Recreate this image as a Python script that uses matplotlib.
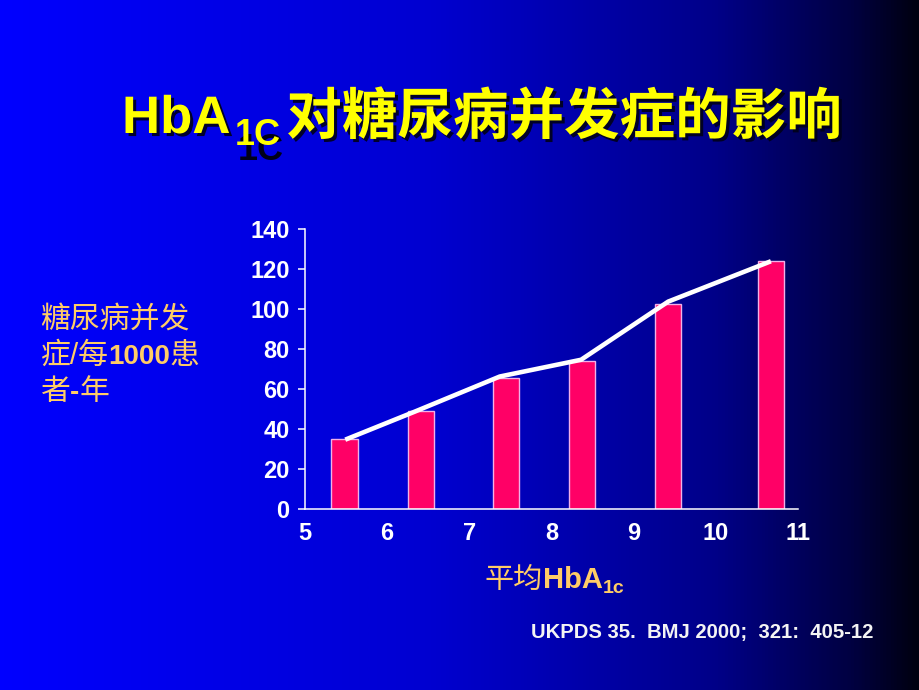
import numpy as np
import matplotlib
matplotlib.use('Agg')
import matplotlib.pyplot as plt
import matplotlib.patheffects as pe
from matplotlib.colors import LinearSegmentedColormap

# data
hba1c_bar = [5.48, 6.41, 7.45, 8.37, 9.42, 10.67]
events_bar = [35.2, 49.0, 65.5, 74.2, 102.5, 124.0]
hba1c_line = [5.49, 6.34, 7.37, 8.36, 9.42, 10.67]
events_line = [34.7, 48.8, 66.3, 74.7, 103.8, 124.0]
x_ticks = [5, 6, 7, 8, 9, 10, 11]
y_ticks = [0, 20, 40, 60, 80, 100, 120, 140]

title_main = "HbA"
title_sub = "1C"
title_cn = "对糖尿病并发症的影响"
# y label as (text, bold) runs per line
ylabel_lines = [[("糖尿病并发", False)],
                [("症/每", False), ("1000", True), ("患", False)],
                [("者", False), ("-", True), ("年", False)]]
xlabel_cn = "平均"
xlabel_sub = "1c"
source = "UKPDS 35.  BMJ 2000;  321:  405-12"

W, H = 920, 690
FAM = ['Liberation Sans', 'Noto Sans CJK SC']
YELLOW = '#ffff00'
TAN = '#ffcc66'

fig = plt.figure(figsize=(W / 100, H / 100), dpi=100)

# gradient background, blue -> near black
bg = fig.add_axes([0, 0, 1, 1])
bg.axis('off')
cmap = LinearSegmentedColormap.from_list(
    'bg', [(0, '#0000ff'), (0.47, '#0000d0'), (0.78, '#000088'),
           (0.93, '#000040'), (1, '#000010')])
bg.imshow(np.linspace(0, 1, 600).reshape(1, -1), cmap=cmap, aspect='auto',
          extent=[0, 1, 0, 1])
bg.set_xlim(0, 1)
bg.set_ylim(0, 1)

ax = fig.add_axes([0.3315, 0.2623, 0.5359, 0.4054])
ax.set_facecolor('none')
ax.bar(hba1c_bar, events_bar, width=0.32, color='#ff0066',
       edgecolor='#f0b0e8', linewidth=1, zorder=2)
ax.plot(hba1c_line, events_line, color='white', lw=3.3,
        solid_capstyle='butt', zorder=3)
ax.set_xlim(5, 11)
ax.set_ylim(0, 140)
for s in ['top', 'right']:
    ax.spines[s].set_visible(False)
for s in ['left', 'bottom']:
    ax.spines[s].set_color('white')
    ax.spines[s].set_linewidth(1.1)
ax.set_xticks(x_ticks)
ax.set_yticks(y_ticks)
ax.tick_params(axis='x', length=0, pad=9, labelsize=17, labelcolor='white')
ax.tick_params(axis='y', length=5, width=1.1, color='white', pad=6,
               labelsize=17, labelcolor='white')
for lab in ax.get_xticklabels() + ax.get_yticklabels():
    lab.set_fontweight('bold')
    lab.set_family(FAM)

renderer = fig.canvas.get_renderer()


def put(x, y, s, size, color, bold=True, **kw):
    """place text in pixel coords (y from top), return its width in px"""
    t = fig.text(x / W, 1 - y / H, s, fontsize=size, color=color,
                 fontweight='bold' if bold else 'medium', family=FAM,
                 va='baseline', ha='left', **kw)
    return t.get_window_extent(renderer).width


# title with drop shadow
shadow = [pe.withSimplePatchShadow(offset=(2.2, -2.2), shadow_rgbFace='#000018',
                                   alpha=0.9)]
x = 122
x += put(x, 133, title_main, 38, YELLOW, path_effects=shadow)
x += 5
put(x + 3, 160, title_sub, 26, '#000018', zorder=2)
x += put(x, 145, title_sub, 26, YELLOW, zorder=3)
put(x + 5, 134, title_cn, 40, YELLOW, path_effects=shadow)

# y label, three lines
for i, line in enumerate(ylabel_lines):
    x = 40
    for s, b in line:
        x += put(x, 328 + 36 * i, s, 21.5 if not b else 20, TAN, bold=b)

# x label
x = 485
x += put(x, 588, xlabel_cn, 21, TAN, bold=False)
x += put(x, 588, title_main, 21, TAN)
put(x, 593, xlabel_sub, 14, TAN)

put(531, 638, source, 14.6, '#f4f4f4')

fig.savefig('out.png', dpi=100)
